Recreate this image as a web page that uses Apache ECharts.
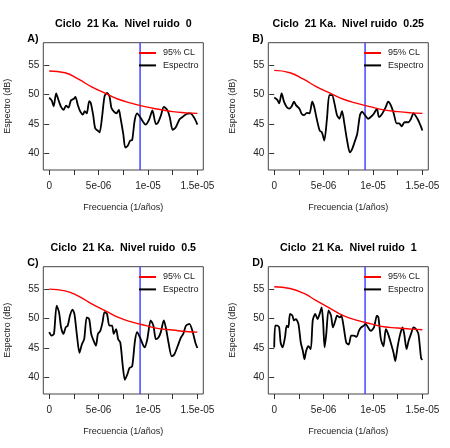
<!DOCTYPE html>
<html>
<head>
<meta charset="utf-8">
<script src="https://cdn.jsdelivr.net/npm/echarts@6/dist/echarts.min.js"></script>
<style>
  html, body { margin: 0; padding: 0; background: #fff; }
  #chart { width: 450px; height: 448px; }
</style>
</head>
<body>
<div id="chart"></div>
<script>
// frequencies are written in units of 1e-6 (1/años)
const freqUnit = 1e-6;
const cutoff = 9.2;

const noiseLevels = ['0', '0.25', '0.5', '1'];
const panelLetters = ['A)', 'B)', 'C)', 'D)'];

const xTickValues = [0, 5, 10, 15];
const xTickLabels = ['0', '5e-06', '1e-05', '1.5e-05'];
const xMinorTicks = [0, 2.5, 5, 7.5, 10, 12.5, 15];
const yTickValues = [40, 45, 50, 55];
const yRange = [37.2, 58.8];

// 95% CL curves
const clFreq = [0, 1.6, 2.96, 4.3, 5.7, 7.0, 8.4, 9.8, 11.1, 12.5, 13.85, 15];
const clA = [54.0, 53.7, 52.6, 51.3, 50.2, 49.2, 48.5, 47.9, 47.5, 47.1, 46.9, 46.8];
const clB = [54.1, 53.7, 52.6, 51.3, 50.2, 49.2, 48.5, 47.9, 47.4, 47.1, 46.9, 46.8];
const clC = [55.0, 54.7, 53.8, 52.5, 51.3, 50.2, 49.4, 48.8, 48.3, 48.05, 47.8, 47.7];
const clD = [55.4, 55.1, 54.3, 53.0, 51.7, 50.5, 49.7, 49.1, 48.6, 48.4, 48.2, 48.1];

// spectra
const freqA = [0, 0.25, 0.45, 0.7, 0.95, 1.2, 1.45, 1.7, 1.95, 2.2, 2.5, 2.65, 2.9, 3.15, 3.4, 3.6, 3.8, 4.05, 4.2, 4.45,
  4.65, 4.9, 5.1, 5.35, 5.6, 5.85, 6.1, 6.3, 6.55, 6.8, 7.05, 7.2, 7.5, 7.7, 7.95, 8.2, 8.4, 8.65, 8.9, 9.2,
  9.45, 9.75, 10.1, 10.45, 10.8, 11.0, 11.3, 11.6, 11.95, 12.2, 12.5, 12.8, 13.2, 13.5, 13.9, 14.3, 14.7, 15.0];
const specA = [49.5, 49.0, 48.0, 50.2, 49.0, 47.9, 47.4, 48.1, 47.8, 49.0, 49.3, 49.6, 48.2, 47.1, 46.6, 47.2, 46.8, 48.9, 48.6, 46.5,
  44.3, 43.9, 43.6, 46.2, 49.7, 50.3, 49.7, 47.7, 47.1, 46.8, 47.4, 46.2, 43.3, 41.0, 41.3, 42.2, 42.3, 45.6, 46.8, 46.2,
  45.5, 44.9, 45.7, 47.3, 45.0, 45.2, 46.4, 47.9, 47.4, 46.2, 44.0, 44.4, 45.8, 46.2, 46.7, 46.8, 46.0, 44.9];

const freqB = [0, 0.31, 0.5, 0.75, 0.99, 1.26, 1.53, 1.77, 2.0, 2.2, 2.55, 2.79, 3.03, 3.3, 3.57, 3.85, 4.05, 4.3, 4.6, 4.83,
  5.07, 5.34, 5.58, 5.85, 6.1, 6.36, 6.6, 6.87, 7.1, 7.38, 7.66, 7.9, 8.13, 8.4, 8.68, 8.9, 9.19, 9.5, 9.77, 10.1,
  10.4, 10.6, 10.95, 11.3, 11.53, 11.8, 12.1, 12.4, 12.66, 12.9, 13.2, 13.6, 13.85, 14.1, 14.5, 14.8, 15.0];
const specB = [49.5, 49.1, 48.5, 50.2, 48.8, 47.9, 47.6, 48.0, 48.8, 48.2, 47.6, 46.7, 46.5, 46.9, 46.8, 48.8, 47.9, 45.9, 43.9, 43.6,
  42.2, 45.9, 49.9, 49.9, 48.5, 46.5, 45.9, 47.2, 45.1, 42.2, 40.2, 40.8, 41.9, 43.3, 46.5, 47.1, 46.5, 45.9, 46.2, 46.8,
  47.6, 46.2, 46.8, 47.9, 48.8, 48.2, 46.8, 45.1, 45.1, 44.6, 45.3, 45.3, 45.9, 46.8, 45.9, 44.8, 43.9];

const freqC = [0, 0.24, 0.48, 0.75, 0.99, 1.2, 1.43, 1.67, 1.87, 2.1, 2.35, 2.55, 2.79, 3.06, 3.3, 3.54, 3.8, 4.05, 4.25, 4.5,
  4.73, 4.93, 5.17, 5.4, 5.6, 5.85, 6.09, 6.36, 6.53, 6.77, 6.98, 7.2, 7.45, 7.66, 7.9, 8.13, 8.4, 8.68, 8.9, 9.19,
  9.4, 9.66, 9.93, 10.27, 10.55, 10.8, 11.06, 11.3, 11.6, 11.87, 12.08, 12.4, 12.66, 13.0, 13.34, 13.57, 13.85, 14.19, 14.5, 14.8, 15.0];
const specC = [47.7, 47.1, 47.4, 52.2, 51.1, 48.5, 47.4, 48.5, 48.8, 50.5, 51.5, 50.8, 47.4, 44.2, 45.6, 46.5, 50.2, 49.9, 47.4, 46.2,
  45.4, 47.4, 47.9, 49.4, 51.1, 50.8, 48.8, 48.8, 47.4, 48.2, 46.5, 45.9, 41.9, 39.6, 40.5, 41.6, 41.9, 46.2, 47.7, 46.8,
  45.9, 45.1, 46.5, 49.7, 48.8, 46.5, 46.8, 47.7, 49.7, 47.9, 45.9, 43.6, 43.9, 45.3, 46.8, 47.4, 48.8, 49.1, 47.9, 45.9, 45.0];

const freqD = [0, 0.1, 0.31, 0.5, 0.65, 0.85, 1.09, 1.26, 1.43, 1.6, 1.84, 2.0, 2.2, 2.45, 2.69, 2.9, 3.06, 3.23, 3.47, 3.7,
  3.9, 4.15, 4.39, 4.6, 4.8, 4.95, 5.1, 5.27, 5.5, 5.75, 5.95, 6.2, 6.36, 6.64, 6.8, 7.04, 7.3, 7.55, 7.79, 8.06,
  8.34, 8.57, 8.8, 9.08, 9.25, 9.5, 9.77, 10.1, 10.4, 10.55, 10.8, 11.06, 11.3, 11.53, 11.8, 12.08, 12.25, 12.5, 12.76, 13.0,
  13.16, 13.4, 13.6, 13.85, 14.1, 14.36, 14.6, 14.87, 15.0];
const specD = [45.1, 48.8, 48.8, 48.5, 45.9, 45.1, 46.8, 48.8, 48.5, 50.8, 50.5, 49.7, 49.9, 49.1, 45.9, 44.5, 43.1, 44.5, 45.3, 44.8,
  49.7, 50.8, 49.9, 50.8, 51.9, 49.4, 45.1, 47.4, 51.4, 50.5, 48.5, 49.7, 50.5, 50.2, 50.5, 48.5, 45.9, 45.6, 47.1, 47.1,
  46.9, 47.9, 48.5, 48.8, 49.1, 48.5, 47.9, 48.5, 50.5, 50.2, 46.5, 45.3, 48.2, 47.4, 45.9, 44.2, 42.8, 45.3, 47.4, 48.5,
  47.4, 44.8, 46.2, 47.4, 48.5, 48.2, 47.4, 43.3, 43.0];

const panels = [
  { freq: freqA, spec: specA, cl: clA },
  { freq: freqB, spec: specB, cl: clB },
  { freq: freqC, spec: specC, cl: clC },
  { freq: freqD, spec: specD, cl: clD }
];

// layout of one panel (pixels inside a 225x224 cell)
const offX = [0, 225, 0, 225];
const offY = [0, 0, 224, 224];
const boxL = 43.3, boxT = 42.7, boxW = 160, boxH = 127.3;
const font = 'Liberation Sans, Arial, Helvetica, sans-serif';

function zip(xs, ys) {
  return xs.map((x, i) => [x * freqUnit, ys[i]]);
}

const grids = [], xAxes = [], yAxes = [], series = [], legends = [], graphics = [];

panels.forEach((p, i) => {
  grids.push({
    left: offX[i] + boxL, top: offY[i] + boxT, width: boxW, height: boxH,
    show: true, borderColor: '#444', borderWidth: 1, backgroundColor: 'transparent'
  });
  xAxes.push({
    type: 'value', gridIndex: i, min: -0.6 * freqUnit, max: 15.6 * freqUnit,
    name: 'Frecuencia (1/años)', nameLocation: 'middle', nameGap: 33,
    nameTextStyle: { fontSize: 9, color: '#222', fontFamily: font },
    axisLine: { show: false },
    axisTick: { show: true, length: 5, lineStyle: { color: '#333' },
      customValues: xMinorTicks.map(v => v * freqUnit) },
    axisLabel: { fontSize: 10, color: '#222', fontFamily: font, margin: 11,
      customValues: xTickValues.map(v => v * freqUnit),
      formatter: v => xTickLabels[xTickValues.findIndex(t => Math.abs(t * freqUnit - v) < 1e-9)] },
    splitLine: { show: false }
  });
  yAxes.push({
    type: 'value', gridIndex: i, min: yRange[0], max: yRange[1],
    name: 'Espectro (dB)', nameLocation: 'middle', nameGap: 31,
    nameTextStyle: { fontSize: 9, color: '#222', fontFamily: font },
    axisLine: { show: false },
    axisTick: { show: true, length: 5, lineStyle: { color: '#333' }, customValues: yTickValues },
    axisLabel: { fontSize: 10, color: '#222', fontFamily: font, margin: 4, customValues: yTickValues },
    splitLine: { show: false }
  });
  series.push({
    name: 'Espectro', type: 'line', xAxisIndex: i, yAxisIndex: i,
    data: zip(p.freq, p.spec), symbol: 'none', smooth: 0.25,
    lineStyle: { color: '#000', width: 1.8 }, itemStyle: { color: '#000' },
    z: 3
  });
  series.push({
    name: 'cutoff', type: 'line', xAxisIndex: i, yAxisIndex: i,
    data: [[cutoff * freqUnit, yRange[0]], [cutoff * freqUnit, yRange[1]]],
    symbol: 'none', silent: true,
    lineStyle: { color: '#4646ff', width: 1.5 }, itemStyle: { color: '#4646ff' },
    z: 2
  });
  series.push({
    name: '95% CL', type: 'line', xAxisIndex: i, yAxisIndex: i,
    data: zip(clFreq, p.cl), symbol: 'none', smooth: true,
    lineStyle: { color: '#ff0000', width: 1.4 }, itemStyle: { color: '#ff0000' },
    z: 4
  });
  legends.push({
    data: ['95% CL', 'Espectro'], orient: 'vertical',
    left: offX[i] + 139, top: offY[i] + 48, padding: 0,
    icon: 'rect', itemWidth: 17, itemHeight: 2, itemGap: 2.4,
    selectedMode: false,
    textStyle: { fontSize: 9, lineHeight: 10, color: '#222', fontFamily: font, padding: [0, 0, 0, 2] }
  });
  graphics.push({
    type: 'text', x: offX[i] + boxL + boxW / 2, y: offY[i] + 23.8,
    style: { text: 'Ciclo  21 Ka.  Nivel ruido  ' + noiseLevels[i], fontSize: 10.7, fontWeight: 'bold',
      fontFamily: font, fill: '#000', textAlign: 'center', textVerticalAlign: 'middle' }
  });
  graphics.push({
    type: 'text', x: offX[i] + 27.3, y: offY[i] + 39,
    style: { text: panelLetters[i], fontSize: 10.7, fontWeight: 'bold',
      fontFamily: font, fill: '#000', textAlign: 'left', textVerticalAlign: 'middle' }
  });
});

const option = {
  animation: false,
  backgroundColor: '#fff',
  grid: grids,
  xAxis: xAxes,
  yAxis: yAxes,
  legend: legends,
  series: series,
  graphic: graphics
};

const myChart = echarts.init(document.getElementById('chart'));
myChart.setOption(option);
</script>
</body>
</html>
